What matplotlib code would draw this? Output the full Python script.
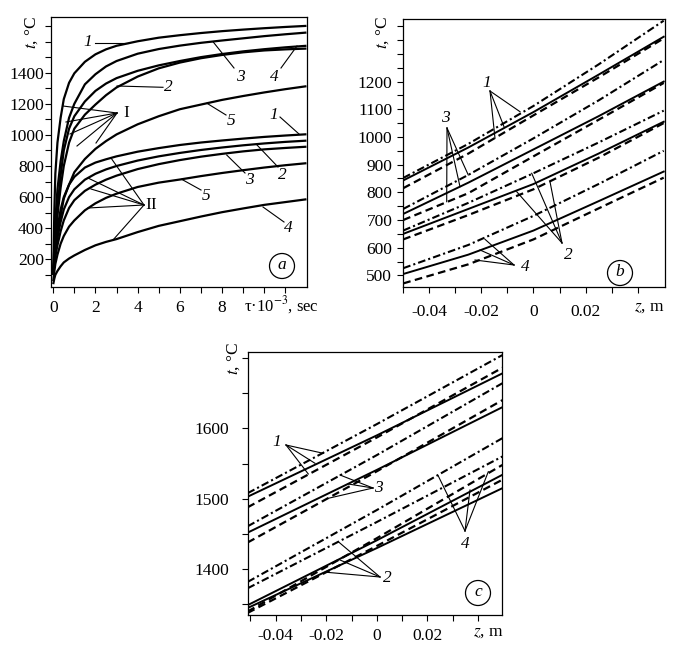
import matplotlib
matplotlib.use('Agg')
import matplotlib.pyplot as plt
from matplotlib.lines import Line2D
from matplotlib.patches import Ellipse
from matplotlib.ticker import FixedLocator, FixedFormatter

plt.rcParams['font.family'] = ['Liberation Serif', 'DejaVu Serif']
plt.rcParams['mathtext.fontset'] = 'stix'
plt.rcParams['lines.scale_dashes'] = False

W, H = 685, 650

# ---------------- Panel a data: t (deg C) vs tau*1e-3 (sec) ----------------
tau = [0, 0.05, 0.1, 0.2, 0.35, 0.5, 0.75, 1, 1.5, 2, 2.5, 3, 4, 5, 6, 7, 8, 9, 10, 11, 12]
a_I_1 = [100, 500, 750, 950, 1110, 1230, 1335, 1396, 1470, 1518, 1550, 1573, 1602, 1625, 1641, 1655, 1667, 1677, 1686, 1694, 1701]
a_I_3 = [100, 280, 450, 650, 830, 960, 1110, 1200, 1325, 1390, 1440, 1475, 1522, 1552, 1574, 1592, 1607, 1621, 1635, 1647, 1658]
a_I_4 = [100, 220, 350, 530, 740, 900, 1040, 1120, 1215, 1283, 1330, 1365, 1412, 1447, 1475, 1500, 1520, 1537, 1551, 1563, 1573]
a_I_2 = [100, 200, 300, 480, 660, 800, 950, 1040, 1130, 1195, 1255, 1305, 1375, 1428, 1465, 1493, 1514, 1531, 1543, 1550, 1555]
a_I_5 = [100, 180, 250, 350, 480, 590, 680, 760, 845, 910, 960, 1003, 1068, 1120, 1165, 1195, 1225, 1250, 1273, 1294, 1313]
a_II_1 = [100, 200, 300, 400, 520, 600, 680, 730, 790, 822, 843, 862, 892, 915, 935, 951, 964, 976, 987, 996, 1004]
a_II_2 = [100, 170, 250, 340, 440, 520, 600, 650, 712, 750, 778, 800, 835, 862, 884, 903, 919, 933, 945, 955, 963]
a_II_3 = [100, 160, 220, 290, 380, 450, 530, 580, 640, 680, 712, 738, 780, 812, 838, 860, 878, 894, 907, 916, 924]
a_II_5 = [60, 120, 170, 230, 300, 350, 410, 450, 515, 560, 595, 622, 665, 693, 713, 735, 755, 773, 790, 805, 818]
a_II_4 = [40, 75, 100, 125, 155, 180, 205, 225, 260, 290, 312, 330, 375, 415, 445, 475, 503, 527, 550, 568, 586]

a_xticks = [0, 2, 4, 6, 8]
a_yticks = [200, 400, 600, 800, 1000, 1200, 1400]

# ---------------- Panel b data: t (deg C) vs z (m) ----------------
z_b = [-0.05, -0.025, 0.0, 0.025, 0.05]
b1_dd = [852, 975, 1112, 1262, 1420]
b1_solid = [843, 962, 1090, 1225, 1362]
b1_dash = [815, 940, 1078, 1215, 1356]
b3_dd = [740, 863, 995, 1132, 1278]
b3_solid = [722, 835, 955, 1075, 1200]
b3_dash = [700, 797, 930, 1062, 1195]
b2_dd = [662, 762, 869, 980, 1095]
b2_solid = [650, 740, 830, 940, 1055]
b2_dash = [630, 718, 811, 925, 1050]
b4_dd = [526, 610, 715, 830, 950]
b4_solid = [505, 575, 662, 768, 875]
b4_dash = [471, 540, 630, 742, 853]

b_xticks = [-0.04, -0.02, 0, 0.02]
b_xticklabels = ['-0.04', '-0.02', '0', '0.02']
b_yticks = [500, 600, 700, 800, 900, 1000, 1100, 1200]

# ---------------- Panel c data ----------------
z_c = [-0.0511, 0.0, 0.0497]
c1_dd = [1508, 1606, 1704]
c1_solid = [1503, 1590, 1678]
c1_dash = [1488, 1587, 1686]
c3_dd = [1461, 1562, 1664]
c3_solid = [1452, 1541, 1630]
c3_dash = [1438, 1539, 1640]
c4_dd = [1382, 1484, 1586]
c4_solid = [1349, 1441, 1534]
c4_dash = [1340, 1444, 1548]
c2_dd = [1373, 1467, 1560]
c2_solid = [1345, 1430, 1515]
c2_dash = [1338, 1433, 1527]

c_xticks = [-0.04, -0.02, 0, 0.02]
c_xticklabels = ['-0.04', '-0.02', '0', '0.02']
c_yticks = [1400, 1500, 1600]

# ---------------- figure ----------------
fig = plt.figure(figsize=(W / 100, H / 100), dpi=100)


def rect(l, t, r, b):
    return [l / W, 1 - b / H, (r - l) / W, (b - t) / H]


FS = 12.5
DASH = (0, (5.5, 3.2))
DDOT = (0, (5.5, 2.2, 1.5, 2.2))


def style_axes(ax, xpad, ypad):
    for s in ax.spines.values():
        s.set_linewidth(0.9)
    ax.tick_params(which='both', direction='out', length=4, width=0.8,
                   labelsize=FS)
    ax.tick_params(axis='x', which='both', pad=xpad)
    ax.tick_params(axis='y', which='both', pad=ypad)


def ftext(x, y, s, **kw):
    kw.setdefault('fontsize', FS)
    kw.setdefault('ha', 'center')
    kw.setdefault('va', 'center')
    fig.text(x / W, 1 - y / H, s, **kw)


def fline(pts, lw=0.8):
    for (x0, y0), (x1, y1) in pts:
        fig.add_artist(Line2D([x0 / W, x1 / W], [1 - y0 / H, 1 - y1 / H],
                              transform=fig.transFigure, color='black', lw=lw))


def fan(src, ends, lw=0.8):
    fline([(src, e) for e in ends], lw=lw)


def circle_label(x, y, s):
    fig.add_artist(Ellipse((x / W, 1 - y / H), 25 / W, 25 / H,
                           transform=fig.transFigure, fill=False,
                           ec='black', lw=0.9))
    ftext(x, y - 1, s, style='italic')


# ---- panel a ----
ax = fig.add_axes(rect(50.7, 16.7, 307.3, 287.3))
for ys in [a_II_4, a_II_5, a_II_3, a_II_2, a_II_1,
           a_I_5, a_I_2, a_I_4, a_I_3, a_I_1]:
    ax.plot(tau, ys, color='black', lw=1.6, solid_capstyle='butt',
            solid_joinstyle='round')
ax.set_xlim(-0.12, 12.04)
ax.set_ylim(20, 1760)
ax.xaxis.set_major_locator(FixedLocator(a_xticks))
ax.xaxis.set_major_formatter(FixedFormatter([str(v) for v in a_xticks]))
ax.xaxis.set_minor_locator(FixedLocator([1, 3, 5, 7, 9, 10, 11]))
ax.yaxis.set_major_locator(FixedLocator(a_yticks))
ax.yaxis.set_major_formatter(FixedFormatter([str(v) for v in a_yticks]))
ax.yaxis.set_minor_locator(FixedLocator([100, 300, 500, 700, 900, 1100, 1300, 1500, 1600, 1700]))
style_axes(ax, 5, 0.8)

ftext(32, 32, r'$t$, °C', rotation=90)
ftext(244, 305, '\u03c4·10$^{-3}$, sec', ha='left', fontsize=12)
circle_label(282, 266, 'a')

# labels in panel a
for (x, y, s) in [(88, 42, '1'), (240, 77, '3'), (274, 77, '4'), (168, 87, '2'),
                  (231, 121, '5'), (274, 115, '1'), (282, 175, '2'),
                  (249, 180, '3'), (206, 196, '5'), (288, 228, '4')]:
    ftext(x, y, s, style='italic')
ftext(126, 113, 'I')
ftext(151, 205, 'II')
fline([((95, 42.7), (128, 42.7)), ((213, 41.7), (234, 68)), ((281, 68), (297, 46)),
       ((117, 86), (163, 87.3)), ((207, 103.3), (226, 115)), ((280, 117), (299, 134)),
       ((257, 145), (278, 167)), ((226.7, 155), (245, 173)), ((181.7, 179.3), (201, 190)),
       ((263, 207), (284, 222))])
fan((117, 113), [(63, 106), (66, 122), (70, 134), (77, 146), (96, 143)])
fan((144, 205), [(111, 158), (88, 178), (91, 189), (88, 208), (113, 240)])

# ---- panel b ----
ax = fig.add_axes(rect(402.7, 19.3, 665, 287.3))
for dd, so, da in [(b1_dd, b1_solid, b1_dash), (b3_dd, b3_solid, b3_dash),
                   (b2_dd, b2_solid, b2_dash), (b4_dd, b4_solid, b4_dash)]:
    ax.plot(z_b, dd, color='black', lw=1.5, linestyle=DDOT)
    ax.plot(z_b, so, color='black', lw=1.4)
    ax.plot(z_b, da, color='black', lw=1.6, linestyle=DASH)
ax.set_xlim(-0.0502, 0.0505)
ax.set_ylim(457, 1425)
ax.xaxis.set_major_locator(FixedLocator(b_xticks))
ax.xaxis.set_major_formatter(FixedFormatter(b_xticklabels))
ax.xaxis.set_minor_locator(FixedLocator([-0.05, -0.03, -0.01, 0.01, 0.03, 0.04]))
ax.yaxis.set_major_locator(FixedLocator(b_yticks))
ax.yaxis.set_major_formatter(FixedFormatter([str(v) for v in b_yticks]))
ax.yaxis.set_minor_locator(FixedLocator([550, 650, 750, 850, 950, 1050, 1150,
                                         1250, 1300, 1350, 1400]))
style_axes(ax, 8, 3.5)
ftext(383, 32, r'$t$, °C', rotation=90)
ftext(649, 307, r'$z$, m')
circle_label(620, 273, 'b')
for (x, y, s) in [(487, 83, '1'), (445, 118, '3'), (568, 255, '2'), (525, 267, '4')]:
    ftext(x, y, s, style='italic')
fan((490, 91), [(520, 111.7), (504, 126.7), (495, 138.3)])
fan((447, 128), [(468.3, 175), (460, 186.7), (446.7, 201.7)])
fan((562, 243), [(531.7, 173.3), (550, 181.7), (516.7, 191.7)])
fan((514, 265), [(485, 239.3), (480, 250), (475, 260)])

# ---- panel c ----
ax = fig.add_axes(rect(247.7, 352.3, 502.3, 615))
for dd, so, da in [(c1_dd, c1_solid, c1_dash), (c3_dd, c3_solid, c3_dash),
                   (c4_dd, c4_solid, c4_dash), (c2_dd, c2_solid, c2_dash)]:
    ax.plot(z_c, dd, color='black', lw=1.5, linestyle=DDOT)
    ax.plot(z_c, so, color='black', lw=1.4)
    ax.plot(z_c, da, color='black', lw=1.6, linestyle=DASH)
ax.set_xlim(-0.0511, 0.0497)
ax.set_ylim(1335, 1708)
ax.xaxis.set_major_locator(FixedLocator(c_xticks))
ax.xaxis.set_major_formatter(FixedFormatter(c_xticklabels))
ax.xaxis.set_minor_locator(FixedLocator([-0.05, -0.03, -0.01, 0.01, 0.03, 0.04]))
ax.yaxis.set_major_locator(FixedLocator(c_yticks))
ax.yaxis.set_major_formatter(FixedFormatter([str(v) for v in c_yticks]))
ax.yaxis.set_minor_locator(FixedLocator([1350, 1450, 1550, 1650, 1700]))
style_axes(ax, 5.5, 9.5)
ftext(234, 358, r'$t$, °C', rotation=90)
ftext(488, 632, r'$z$, m')
circle_label(478, 593, 'c')
for (x, y, s) in [(277, 442, '1'), (378, 488, '3'), (387, 578, '2'), (465, 544, '4')]:
    ftext(x, y, s, style='italic')
fan((286, 445), [(323.3, 453.3), (315, 463.3), (308.3, 474)])
fan((373, 488), [(340, 475), (348.3, 484), (328.3, 498.3)])
fan((380, 577), [(338.3, 541.7), (340, 560), (326.7, 572.3)])
fan((465, 531), [(438.3, 476), (470, 490), (488.3, 471.7)])

fig.savefig('out.png', dpi=100)
